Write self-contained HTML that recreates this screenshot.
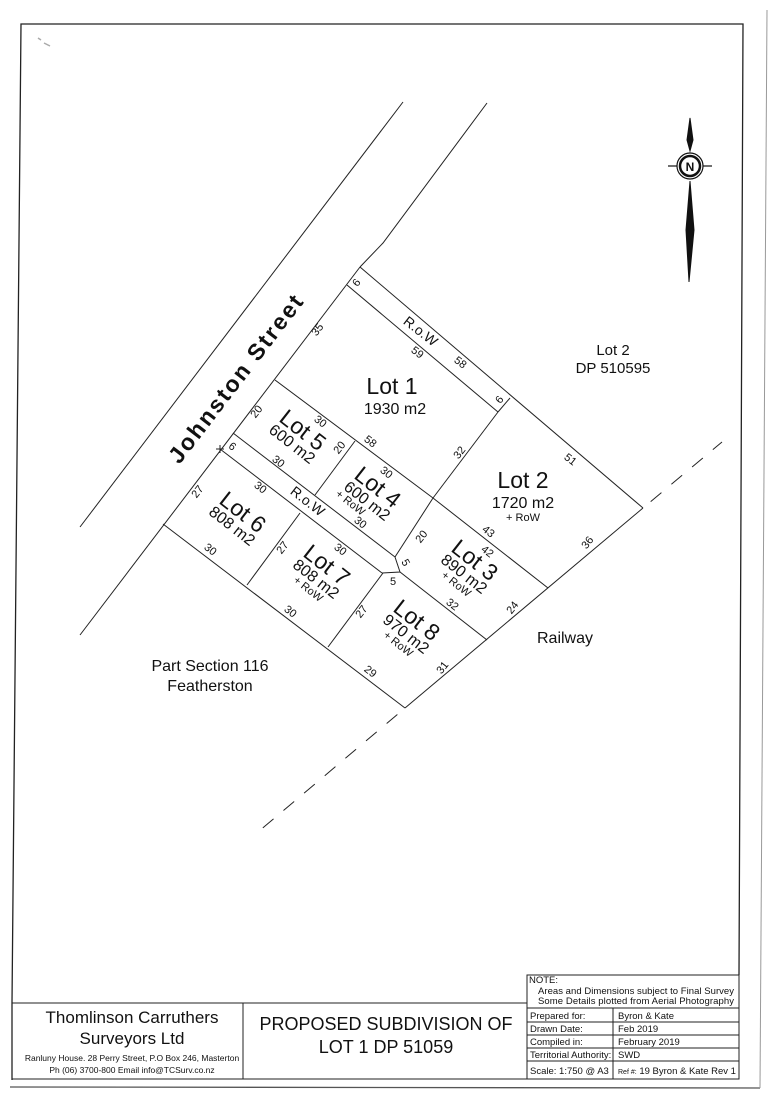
<!DOCTYPE html>
<html><head><meta charset="utf-8"><style>
html,body{margin:0;padding:0;background:#fff}
svg{display:block}
text{font-family:"Liberation Sans",Arial,sans-serif;fill:#111}
</style></head><body>
<svg width="782" height="1100" viewBox="0 0 782 1100" xmlns="http://www.w3.org/2000/svg">
<!-- page border -->
<g stroke="#222" fill="none" stroke-width="1.3">
<polyline points="12,1003 21,24 743,24 739,975"/>
<line x1="12" y1="1003" x2="12" y2="1080"/>
<line x1="10" y1="1087" x2="760" y2="1088" stroke="#555"/>
<line x1="767" y1="10" x2="760" y2="1088" stroke="#999" stroke-width="1"/>
</g>
<!-- title block -->
<g stroke="#222" fill="none" stroke-width="1">
<rect x="12" y="1003" width="515" height="76"/>
<line x1="243" y1="1003" x2="243" y2="1079"/>
<rect x="527" y="975" width="212" height="104"/>
<line x1="527" y1="1008" x2="739" y2="1008"/>
<line x1="527" y1="1022" x2="739" y2="1022"/>
<line x1="527" y1="1035" x2="739" y2="1035"/>
<line x1="527" y1="1048" x2="739" y2="1048"/>
<line x1="527" y1="1061" x2="739" y2="1061"/>
<line x1="613" y1="1008" x2="613" y2="1079"/>
</g>
<g text-anchor="middle">
<text x="132" y="1023" font-size="17">Thomlinson Carruthers</text>
<text x="132" y="1044" font-size="17">Surveyors Ltd</text>
<text x="132" y="1061" font-size="8.5">Ranluny House. 28 Perry Street, P.O Box 246, Masterton</text>
<text x="132" y="1073" font-size="8.5">Ph (06) 3700-800   Email  info@TCSurv.co.nz</text>
<text x="386" y="1030" font-size="18">PROPOSED SUBDIVISION OF</text>
<text x="386" y="1053" font-size="18">LOT 1 DP 51059</text>
</g>
<g font-size="9.5">
<text x="529" y="983">NOTE:</text>
<text x="538" y="994" textLength="196">Areas and Dimensions subject to Final Survey</text>
<text x="538" y="1004" textLength="196">Some Details plotted from Aerial Photography</text>
<text x="530" y="1019">Prepared for:</text>
<text x="530" y="1032">Drawn Date:</text>
<text x="530" y="1045">Compiled in:</text>
<text x="530" y="1058">Territorial Authority:</text>
<text x="530" y="1074">Scale: 1:750 @ A3</text>
<text x="618" y="1019">Byron &amp; Kate</text>
<text x="618" y="1032">Feb 2019</text>
<text x="618" y="1045">February 2019</text>
<text x="618" y="1058">SWD</text>
<text x="618" y="1074"><tspan font-size="7">Ref #:</tspan>  19 Byron &amp; Kate Rev 1</text>
</g>

<!-- compass -->
<g fill="#111" stroke="#111">
<path d="M690,118 L693,140 L690,151 L687,140 Z"/>
<circle cx="690" cy="166" r="13" fill="#fff" stroke-width="1.2"/>
<circle cx="690" cy="166" r="10" fill="#fff" stroke-width="2.5"/>
<line x1="668" y1="166" x2="677" y2="166" stroke-width="1.2"/>
<line x1="703" y1="166" x2="712" y2="166" stroke-width="1.2"/>
<path d="M690,181 L694,230 L689,282 L686,230 Z"/>
</g>
<text x="690" y="171" font-size="12" font-weight="bold" text-anchor="middle" font-family="Liberation Serif">N</text>

<!-- plan lines -->
<g stroke="#222" fill="none" stroke-width="1">
<line x1="403" y1="102" x2="80" y2="527"/>
<polyline points="487,103 383,243 360,267"/>
<line x1="360" y1="267" x2="643" y2="508"/>
<line x1="347" y1="285" x2="498" y2="412"/>
<line x1="498" y1="412" x2="510" y2="398"/>
<line x1="498" y1="412" x2="433" y2="498"/>
<line x1="360" y1="267" x2="80" y2="635"/>
<line x1="643" y1="508" x2="405" y2="708"/>
<line x1="163" y1="524" x2="405" y2="708"/>
<polyline points="275,380 433,498 548,588"/>
<line x1="355" y1="441" x2="315" y2="495"/>
<line x1="433" y1="498" x2="395" y2="557"/>
<line x1="233" y1="433" x2="395" y2="557"/>
<line x1="220" y1="449" x2="382" y2="573"/>
<polyline points="395,557 400,572 382,573"/>
<line x1="400" y1="572" x2="487" y2="640"/>
<line x1="300" y1="513" x2="247" y2="585"/>
<line x1="383" y1="573" x2="328" y2="647"/>
<line x1="216" y1="449" x2="224" y2="449"/>
<line x1="220" y1="445" x2="220" y2="453"/>
<line x1="643" y1="508" x2="722" y2="442" stroke-dasharray="14,13" stroke-dashoffset="-10"/>
<line x1="405" y1="708" x2="258" y2="832" stroke-dasharray="14,13" stroke-dashoffset="-10"/>
</g>

<!-- street -->
<text transform="translate(237,380) rotate(-52.5)" font-size="23" font-weight="bold" text-anchor="middle" dominant-baseline="middle" textLength="205">Johnston  Street</text>

<!-- plain labels -->
<g text-anchor="middle">
<text x="392" y="394" font-size="23">Lot 1</text>
<text x="395" y="414" font-size="16">1930 m2</text>
<text x="613" y="355" font-size="15">Lot 2</text>
<text x="613" y="373" font-size="15">DP 510595</text>
<text x="523" y="488" font-size="23">Lot 2</text>
<text x="523" y="508" font-size="16">1720 m2</text>
<text x="523" y="521" font-size="11">+ RoW</text>
<text x="565" y="643" font-size="16">Railway</text>
<text x="210" y="671" font-size="16">Part Section 116</text>
<text x="210" y="691" font-size="16">Featherston</text>
</g>

<!-- rotated lot labels -->
<g text-anchor="middle">
<g transform="translate(303,430) rotate(38)"><text y="8" font-size="23">Lot 5</text><text y="23" font-size="16">600 m2</text></g>
<g transform="translate(378,487) rotate(38)"><text y="8" font-size="23">Lot 4</text><text y="23" font-size="16">600 m2</text><text x="-12" y="33" font-size="11">+ RoW</text></g>
<g transform="translate(243,512) rotate(38)"><text y="8" font-size="23">Lot 6</text><text y="23" font-size="16">808 m2</text></g>
<g transform="translate(327,565) rotate(38)"><text y="8" font-size="23">Lot 7</text><text y="23" font-size="16">808 m2</text><text y="34" font-size="11">+ RoW</text></g>
<g transform="translate(475,560) rotate(38)"><text y="8" font-size="23">Lot 3</text><text y="23" font-size="16">890 m2</text><text y="34" font-size="11">+ RoW</text></g>
<g transform="translate(417,620) rotate(38)"><text y="8" font-size="23">Lot 8</text><text y="23" font-size="16">970 m2</text><text y="34" font-size="11">+ RoW</text></g>
</g>

<!-- dimension labels -->
<g text-anchor="middle" font-size="11" dominant-baseline="middle">
<text transform="translate(420,332) rotate(38)" font-size="14">R.o.W</text>
<text transform="translate(307,502) rotate(38)" font-size="14">R.o.W</text>
<text transform="translate(357,283) rotate(-52)">6</text>
<text transform="translate(318,330) rotate(-52)">35</text>
<text transform="translate(417,353) rotate(38)">59</text>
<text transform="translate(460,363) rotate(38)">58</text>
<text transform="translate(500,400) rotate(-52)">6</text>
<text transform="translate(570,460) rotate(38)">51</text>
<text transform="translate(460,453) rotate(-52)">32</text>
<text transform="translate(370,442) rotate(38)">58</text>
<text transform="translate(386,473) rotate(38)">30</text>
<text transform="translate(257,412) rotate(-52)">20</text>
<text transform="translate(320,422) rotate(38)">30</text>
<text transform="translate(340,448) rotate(-52)">20</text>
<text transform="translate(232,447) rotate(38)">6</text>
<text transform="translate(278,462) rotate(38)">30</text>
<text transform="translate(198,492) rotate(-52)">27</text>
<text transform="translate(260,488) rotate(38)">30</text>
<text transform="translate(360,523) rotate(38)">30</text>
<text transform="translate(340,550) rotate(38)">30</text>
<text transform="translate(283,548) rotate(-52)">27</text>
<text transform="translate(210,550) rotate(38)">30</text>
<text transform="translate(290,612) rotate(38)">30</text>
<text transform="translate(362,612) rotate(-52)">27</text>
<text transform="translate(405,563) rotate(60)">5</text>
<text transform="translate(393,582) rotate(0)">5</text>
<text transform="translate(422,537) rotate(-52)">20</text>
<text transform="translate(488,532) rotate(38)">43</text>
<text transform="translate(487,552) rotate(38)">42</text>
<text transform="translate(452,605) rotate(38)">32</text>
<text transform="translate(513,608) rotate(-52)">24</text>
<text transform="translate(588,543) rotate(-52)">36</text>
<text transform="translate(370,672) rotate(38)">29</text>
<text transform="translate(443,668) rotate(-52)">31</text>
</g>
<path d="M38,38 l3,2 M44,43 l6,3" stroke="#aaa" stroke-width="1.5"/>
</svg>
</body></html>
